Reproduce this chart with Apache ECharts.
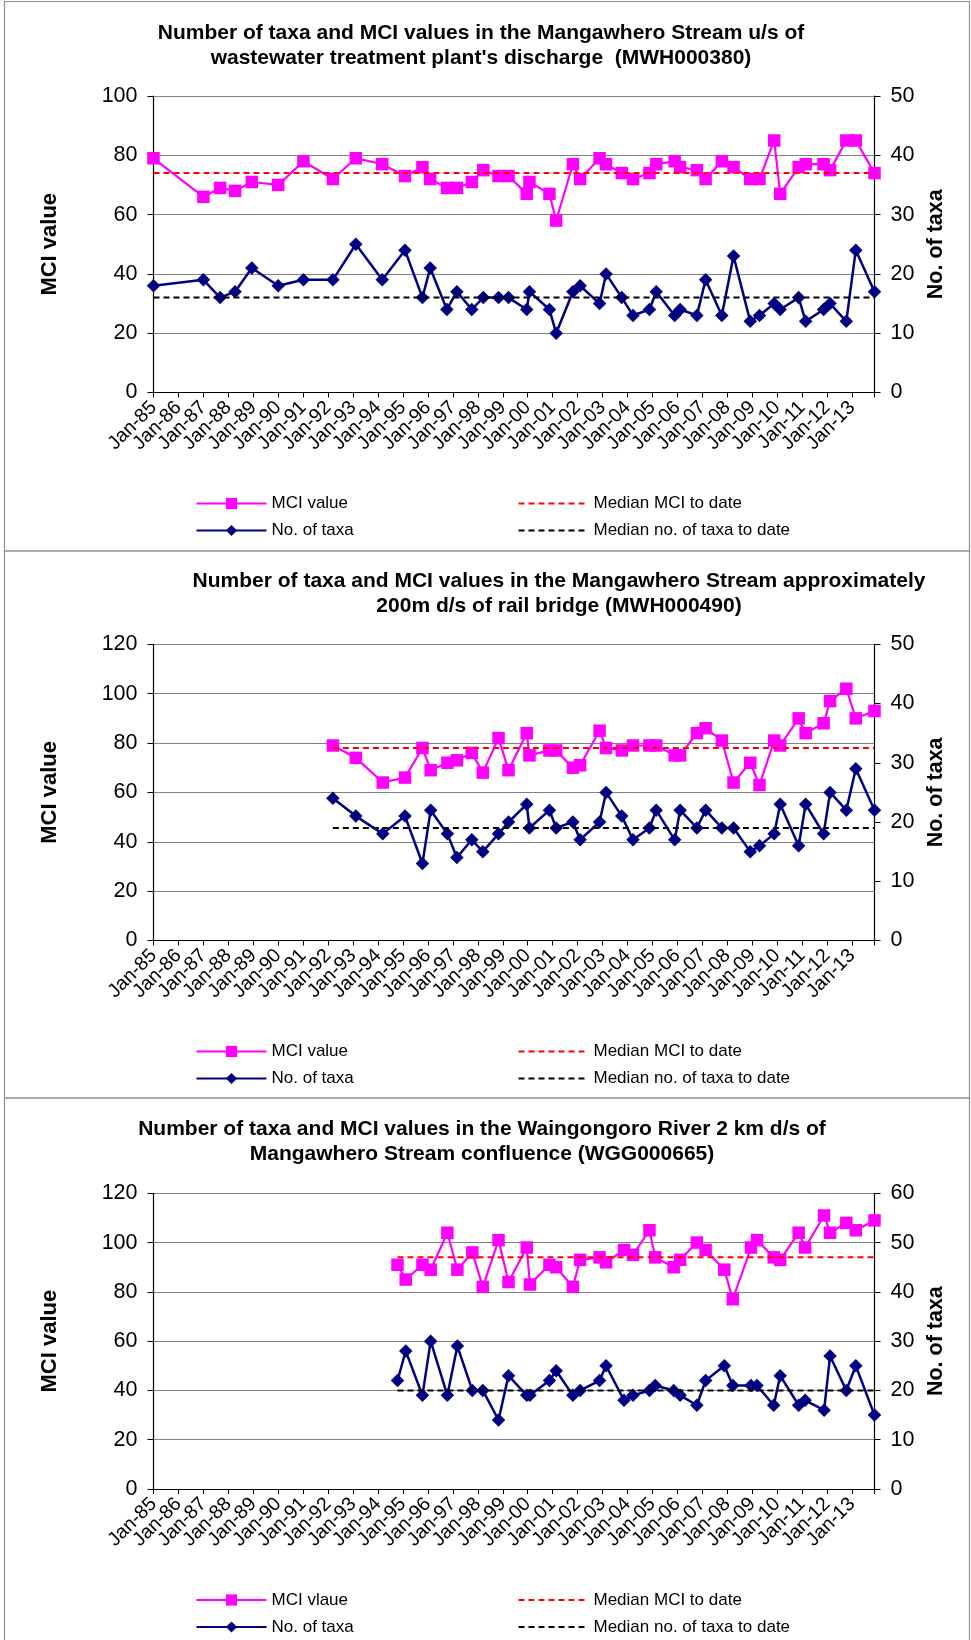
<!DOCTYPE html>
<html>
<head>
<meta charset="utf-8">
<script src="https://cdn.jsdelivr.net/npm/echarts@6/dist/echarts.min.js"></script>
<style>
html,body{margin:0;padding:0;background:#fff;}
#c{width:971px;height:1640px;}
</style>
</head>
<body>
<div id="c"></div>
<script>
// ---- tick labels (x axis, years since Jan-85) ----
const tickLabels = ['Jan-85','Jan-86','Jan-87','Jan-88','Jan-89','Jan-90','Jan-91','Jan-92','Jan-93','Jan-94','Jan-95','Jan-96','Jan-97','Jan-98','Jan-99','Jan-00','Jan-01','Jan-02','Jan-03','Jan-04','Jan-05','Jan-06','Jan-07','Jan-08','Jan-09','Jan-10','Jan-11','Jan-12','Jan-13'];
const xMax = 28.9;

// ---- Chart 1: MWH000380 ----
const c1Dates = [0,2.00,2.67,3.27,3.94,5.00,6.01,7.19,8.11,9.17,10.08,10.78,11.09,11.76,12.16,12.76,13.22,13.83,14.23,14.96,15.07,15.87,16.14,16.81,17.10,17.88,18.14,18.77,19.22,19.88,20.15,20.89,21.11,21.78,22.13,22.78,23.25,23.92,24.29,24.88,25.12,25.86,26.14,26.86,27.12,27.77,28.15,28.90];
const c1MCI = [79,66,69,68,71,70,78,72,79,77,73,76,72,69,69,71,75,73,73,67,71,67,58,77,72,79,77,74,72,74,77,78,76,75,72,78,76,72,72,85,67,76,77,77,75,85,85,74];
const c1Taxa = [18,19,16,17,21,18,19,19,25,19,24,16,21,14,17,14,16,16,16,14,17,14,10,17,18,15,20,16,13,14,17,13,14,13,19,13,23,12,13,15,14,16,12,14,15,12,24,17];
const c1MedMCI = 74;
const c1MedTaxa = 16;

// ---- Chart 2: MWH000490 ----
const c2Dates = [7.19,8.11,9.19,10.08,10.78,11.11,11.78,12.16,12.76,13.20,13.83,14.23,14.96,15.07,15.87,16.14,16.81,17.10,17.88,18.14,18.77,19.22,19.88,20.15,20.89,21.11,21.78,22.13,22.78,23.25,23.92,24.29,24.88,25.12,25.86,26.14,26.86,27.12,27.77,28.15,28.90];
const c2MCI = [79,74,64,66,78,69,72,73,76,68,82,69,84,75,77,77,70,71,85,78,77,79,79,79,75,75,84,86,81,64,72,63,81,79,90,84,88,97,102,90,93];
const c2Taxa = [24,21,18,21,13,22,18,14,17,15,18,20,23,19,22,19,20,17,20,25,21,17,19,22,17,22,19,22,19,19,15,16,18,23,16,23,18,25,22,29,22];
const c2MedMCI = 78;
const c2MedTaxa = 19;

// ---- Chart 3: WGG000665 ----
const c3Dates = [9.78,10.11,10.78,11.11,11.78,12.18,12.78,13.20,13.83,14.23,14.96,15.09,15.87,16.14,16.81,17.10,17.88,18.14,18.86,19.22,19.88,20.11,20.85,21.11,21.78,22.13,22.88,23.22,23.95,24.19,24.86,25.12,25.86,26.12,26.88,27.12,27.77,28.15,28.90];
const c3MCI = [91,85,91,89,104,89,96,82,101,84,98,83,91,90,82,93,94,92,97,95,105,94,90,93,100,97,89,77,98,101,94,93,104,98,111,104,108,105,109];
const c3Taxa = [22,28,19,30,19,29,20,20,14,23,19,19,22,24,19,20,22,25,18,19,20,21,20,19,17,22,25,21,21,21,17,23,17,18,16,27,20,25,15];
const c3MedMCI = 94;
const c3MedTaxa = 20;

const titles = [
  ['Number of taxa and MCI values in the Mangawhero Stream u/s of', "wastewater treatment plant's discharge  (MWH000380)"],
  ['Number of taxa and MCI values in the Mangawhero Stream approximately', '200m d/s of rail bridge (MWH000490)'],
  ['Number of taxa and MCI values in the Waingongoro River 2 km d/s of', 'Mangawhero Stream confluence (WGG000665)']
];
const mciNames = ['MCI value', 'MCI value', 'MCI vlaue'];

// Label axis: one slot per 0.1 year from 0 to xMax, label on each January.
const labelSlots = Array.from({length: Math.round(xMax * 10) + 1}, (_, j) => (j % 10 === 0 && tickLabels[j / 10]) ? tickLabels[j / 10] : '');

// ---- layout ----
const FONT = '"Liberation Sans", Arial, sans-serif';
const panels = [
  {top: 96, height: 296.5, leftMax: 100, rightMax: 50, titleX: 481, titleY: 33, legY: 503.5, frameY: 1.5, frameH: 549.5},
  {top: 644.3, height: 296.2, leftMax: 120, rightMax: 50, titleX: 559, titleY: 581, legY: 1051.5, frameY: 551, frameH: 547},
  {top: 1193.3, height: 295.7, leftMax: 120, rightMax: 60, titleX: 482, titleY: 1129, legY: 1600, frameY: 1098, frameH: 560}
];
const data = [
  {d: c1Dates, m: c1MCI, t: c1Taxa, mm: c1MedMCI, mt: c1MedTaxa},
  {d: c2Dates, m: c2MCI, t: c2Taxa, mm: c2MedMCI, mt: c2MedTaxa},
  {d: c3Dates, m: c3MCI, t: c3Taxa, mm: c3MedMCI, mt: c3MedTaxa}
];

const grids = [], xAxes = [], yAxes = [], series = [], legends = [], graphics = [];
panels.forEach((p, i) => {
  grids.push({left: 153.5, width: 721, top: p.top, height: p.height, outerBoundsMode: 'none', containLabel: false});
  // value axis carrying the data and the yearly ticks
  xAxes[i] = {
    type: 'value', gridIndex: i, position: 'bottom', min: 0, max: xMax, interval: 1,
    axisLine: {lineStyle: {color: '#000', width: 1.2}},
    axisTick: {show: true, length: 5, lineStyle: {color: '#000'}},
    splitLine: {show: false},
    axisLabel: {show: false}
  };
  // label-only axis sharing the same extent
  xAxes[3 + i] = {
    type: 'category', gridIndex: i, position: 'bottom', boundaryGap: false, data: labelSlots,
    axisLine: {show: false}, axisTick: {show: false}, splitLine: {show: false},
    axisLabel: {interval: 0, rotate: 45, margin: 12, fontSize: 19.5, color: '#000', fontFamily: FONT, hideOverlap: false}
  };
  yAxes.push({
    type: 'value', gridIndex: i, position: 'left', min: 0, max: p.leftMax, interval: 20,
    name: 'MCI value', nameLocation: 'middle', nameRotate: 90, nameGap: 93,
    nameTextStyle: {fontSize: 22, fontWeight: 'bold', color: '#000', fontFamily: FONT},
    axisLine: {show: true, lineStyle: {color: '#000', width: 1.2}},
    axisTick: {show: true, length: 6, lineStyle: {color: '#000'}},
    axisLabel: {fontSize: 21.5, color: '#000', margin: 16, fontFamily: FONT},
    splitLine: {show: true, lineStyle: {color: '#808080', width: 1}}
  });
  yAxes.push({
    type: 'value', gridIndex: i, position: 'right', min: 0, max: p.rightMax, interval: 10,
    name: 'No. of taxa', nameLocation: 'middle', nameRotate: 90, nameGap: 49,
    nameTextStyle: {fontSize: 21.5, fontWeight: 'bold', color: '#000', fontFamily: FONT},
    axisLine: {show: true, lineStyle: {color: '#000', width: 1.2}},
    axisTick: {show: true, length: 6, lineStyle: {color: '#000'}},
    axisLabel: {fontSize: 21.5, color: '#000', margin: 16, fontFamily: FONT},
    splitLine: {show: false}
  });
  const D = data[i];
  series.push({
    name: mciNames[i], type: 'line', xAxisIndex: i, yAxisIndex: 2 * i,
    data: D.d.map((x, k) => [x, D.m[k]]),
    symbol: 'rect', symbolSize: 12.5, color: '#FF00FF',
    lineStyle: {color: '#FF00FF', width: 2.2}, itemStyle: {color: '#FF00FF'}, z: 3
  });
  series.push({
    name: 'No. of taxa', type: 'line', xAxisIndex: i, yAxisIndex: 2 * i + 1,
    data: D.d.map((x, k) => [x, D.t[k]]),
    symbol: 'diamond', symbolSize: 13.5, color: '#000080',
    lineStyle: {color: '#000080', width: 2.5}, itemStyle: {color: '#000080'}, z: 3
  });
  series.push({
    name: 'Median MCI to date', type: 'line', xAxisIndex: i, yAxisIndex: 2 * i,
    data: [[D.d[0], D.mm], [xMax, D.mm]], symbol: 'none', color: '#FF0000',
    lineStyle: {color: '#FF0000', width: 2, type: [6, 4]}, z: 4, silent: true
  });
  series.push({
    name: 'Median no. of taxa to date', type: 'line', xAxisIndex: i, yAxisIndex: 2 * i + 1,
    data: [[D.d[0], D.mt], [xMax, D.mt]], symbol: 'none', color: '#000000',
    lineStyle: {color: '#000000', width: 2, type: [6, 4]}, z: 4, silent: true
  });
  const legCommon = {orient: 'vertical', itemWidth: 70, itemHeight: 14, itemGap: 10,
    textStyle: {fontSize: 17, color: '#000', fontFamily: FONT}, selectedMode: false, padding: 0};
  legends.push(Object.assign({left: 195.5, top: p.legY - 8.5, data: [mciNames[i], 'No. of taxa']}, legCommon));
  legends.push(Object.assign({left: 517.5, top: p.legY - 8.5, data: [
    {name: 'Median MCI to date', itemStyle: {opacity: 0}},
    {name: 'Median no. of taxa to date', itemStyle: {opacity: 0}}
  ]}, legCommon));
  graphics.push({type: 'rect', shape: {x: 4.5, y: p.frameY, width: 965, height: p.frameH}, style: {fill: 'none', stroke: '#909090', lineWidth: 1.2}, silent: true, z: -10});
  titles[i].forEach((t, j) => graphics.push({
    type: 'text', x: p.titleX, y: p.titleY + j * 25,
    style: {text: t, fill: '#000', font: 'bold 21px ' + FONT, textAlign: 'center', textVerticalAlign: 'middle'}
  }));
});

const chart = echarts.init(document.getElementById('c'), null, {renderer: 'canvas'});
chart.setOption({
  animation: false,
  backgroundColor: '#fff',
  grid: grids, xAxis: xAxes, yAxis: yAxes, series: series, legend: legends, graphic: graphics
});
</script>
</body>
</html>
